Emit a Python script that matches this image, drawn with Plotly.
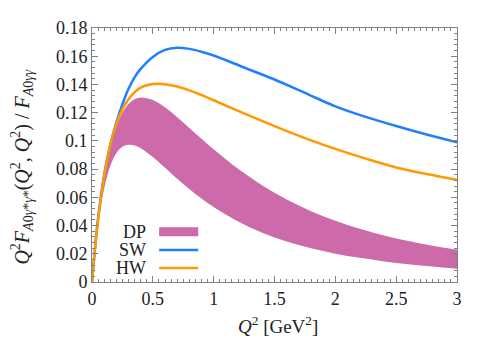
import plotly.graph_objects as go

# ---------------- data ----------------
q2_dp = [0, 0.02, 0.05, 0.1, 0.15, 0.2, 0.25, 0.3, 0.35, 0.4, 0.5, 0.6, 0.7,
         0.8, 0.9, 1.0, 1.2, 1.4, 1.6, 1.8, 2.0, 2.2, 2.4, 2.6, 2.8, 3.0]
dp_upper = [0, 0.0188, 0.0427, 0.0733, 0.0950, 0.1100, 0.1199, 0.1261, 0.1295,
            0.1307, 0.1290, 0.1238, 0.1168, 0.1092, 0.1015, 0.0940, 0.0802,
            0.0684, 0.0585, 0.0502, 0.0434, 0.0377, 0.0330, 0.0290, 0.0257, 0.0228]
dp_lower = [0, 0.0184, 0.0405, 0.0663, 0.0821, 0.0913, 0.0958, 0.0973, 0.0967,
            0.0948, 0.0885, 0.0809, 0.0732, 0.0659, 0.0591, 0.0531, 0.0429,
            0.0349, 0.0287, 0.0239, 0.0201, 0.0171, 0.0146, 0.0126, 0.0109, 0.0094]

q2_sw = [0, 0.025, 0.05, 0.1, 0.15, 0.2, 0.25, 0.3, 0.35, 0.4, 0.5, 0.6, 0.7,
         0.8, 0.9, 1.0, 1.25, 1.5, 1.75, 2.0, 2.25, 2.5, 2.75, 3.0]
sw = [0, 0.0240, 0.0450, 0.0760, 0.0970, 0.1130, 0.1260, 0.1370, 0.1450,
      0.1510, 0.1595, 0.1645, 0.1660, 0.1652, 0.1632, 0.1605, 0.1520, 0.1435,
      0.1340, 0.1245, 0.1170, 0.1105, 0.1045, 0.0990]

q2_hw = [0, 0.025, 0.05, 0.1, 0.15, 0.2, 0.25, 0.3, 0.35, 0.4, 0.5, 0.55, 0.6,
         0.7, 0.8, 0.9, 1.0, 1.25, 1.5, 1.75, 2.0, 2.25, 2.5, 2.75, 3.0]
hw = [0, 0.0238, 0.0440, 0.0750, 0.0970, 0.1120, 0.1225, 0.1295, 0.1345,
      0.1378, 0.1403, 0.1405, 0.1402, 0.1385, 0.1358, 0.1325, 0.1288, 0.1195,
      0.1105, 0.1020, 0.0943, 0.0874, 0.0812, 0.0765, 0.0725]

x_ticks = [0, 0.5, 1, 1.5, 2, 2.5, 3]
x_tick_labels = ["0", "0.5", "1", "1.5", "2", "2.5", "3"]
y_ticks = [0, 0.02, 0.04, 0.06, 0.08, 0.1, 0.12, 0.14, 0.16, 0.18]
y_tick_labels = ["0", "0.02", "0.04", "0.06", "0.08", "0.1", "0.12", "0.14", "0.16", "0.18"]

legend_names = ["DP", "SW", "HW"]

# ---------------- style ----------------
C_DP = "rgb(204,106,170)"
C_SW = "rgb(30,128,255)"
C_HW = "rgb(255,153,0)"
FONT = "Liberation Serif, DejaVu Serif, serif"
AXC = "rgb(128,128,128)"
TXT = "#222"

fig = go.Figure()
fig.add_trace(go.Scatter(x=q2_dp, y=dp_lower, mode="lines", line=dict(width=0, color=C_DP, shape="spline"),
                         showlegend=False, hoverinfo="skip"))
fig.add_trace(go.Scatter(x=q2_dp, y=dp_upper, mode="lines", line=dict(width=0, color=C_DP, shape="spline"),
                         fill="tonexty", fillcolor=C_DP, name=legend_names[0], showlegend=False))
fig.add_trace(go.Scatter(x=q2_sw, y=sw, mode="lines", line=dict(width=2.5, color=C_SW, shape="spline"),
                         name=legend_names[1], showlegend=False))
fig.add_trace(go.Scatter(x=q2_hw, y=hw, mode="lines", line=dict(width=2.5, color=C_HW, shape="spline"),
                         name=legend_names[2], showlegend=False))

axis_common = dict(showline=True, linecolor=AXC, linewidth=1, mirror="ticks",
                   ticks="inside", ticklen=6, tickcolor=AXC, tickwidth=1,
                   showgrid=False, zeroline=False,
                   tickfont=dict(family=FONT, size=18, color=TXT))
fig.update_xaxes(range=[0, 3], tickvals=x_ticks, ticktext=x_tick_labels,
                 minor=dict(dtick=0.05, ticks="inside", ticklen=3, tickcolor=AXC, showgrid=False),
                 **axis_common)
fig.update_yaxes(range=[0, 0.18], tickvals=y_ticks, ticktext=y_tick_labels,
                 minor=dict(dtick=0.004, ticks="inside", ticklen=3, tickcolor=AXC, showgrid=False),
                 **axis_common)

# legend drawn in the gnuplot manner (text left, sample right)
leg_y = [0.198, 0.126, 0.055]
for name, yy in zip(legend_names, leg_y):
    fig.add_annotation(xref="paper", yref="paper", x=0.154, y=yy, text=name, showarrow=False,
                       xanchor="right", yanchor="middle", font=dict(family=FONT, size=18, color=TXT))
fig.add_shape(type="rect", xref="paper", yref="paper", x0=0.184, x1=0.291, y0=leg_y[0] - 0.018,
              y1=leg_y[0] + 0.018, fillcolor=C_DP, line=dict(width=0))
fig.add_shape(type="line", xref="paper", yref="paper", x0=0.184, x1=0.291, y0=leg_y[1], y1=leg_y[1],
              line=dict(color=C_SW, width=2.5))
fig.add_shape(type="line", xref="paper", yref="paper", x0=0.184, x1=0.291, y0=leg_y[2], y1=leg_y[2],
              line=dict(color=C_HW, width=2.5))

fig.add_annotation(xref="paper", yref="paper", x=0.51, y=-0.17, xanchor="center", yanchor="middle",
                   text="<i>Q</i><sup>2</sup> [GeV<sup>2</sup>]", showarrow=False,
                   font=dict(family=FONT, size=19, color=TXT))
fig.add_annotation(xref="paper", yref="paper", x=-0.192, y=0.454, xanchor="center", yanchor="middle",
                   textangle=-90,
                   text="<i>Q</i><sup>2</sup><i>F</i><sub><i>A</i>0<i>γ</i>*<i>γ</i>*</sub>(<i>Q</i><sup>2</sup>, <i>Q</i><sup>2</sup>) / <i>F</i><sub><i>A</i>0<i>γγ</i></sub>",
                   showarrow=False, font=dict(family=FONT, size=20, color=TXT))

# the page body has an 8px margin: size and margins compensate so the plot area
# lands where the reference has it
fig.update_layout(width=483, height=335, margin=dict(l=84, r=34, t=10, b=61),
                  plot_bgcolor="white", paper_bgcolor="white", showlegend=False)
fig.write_html("out.html")
